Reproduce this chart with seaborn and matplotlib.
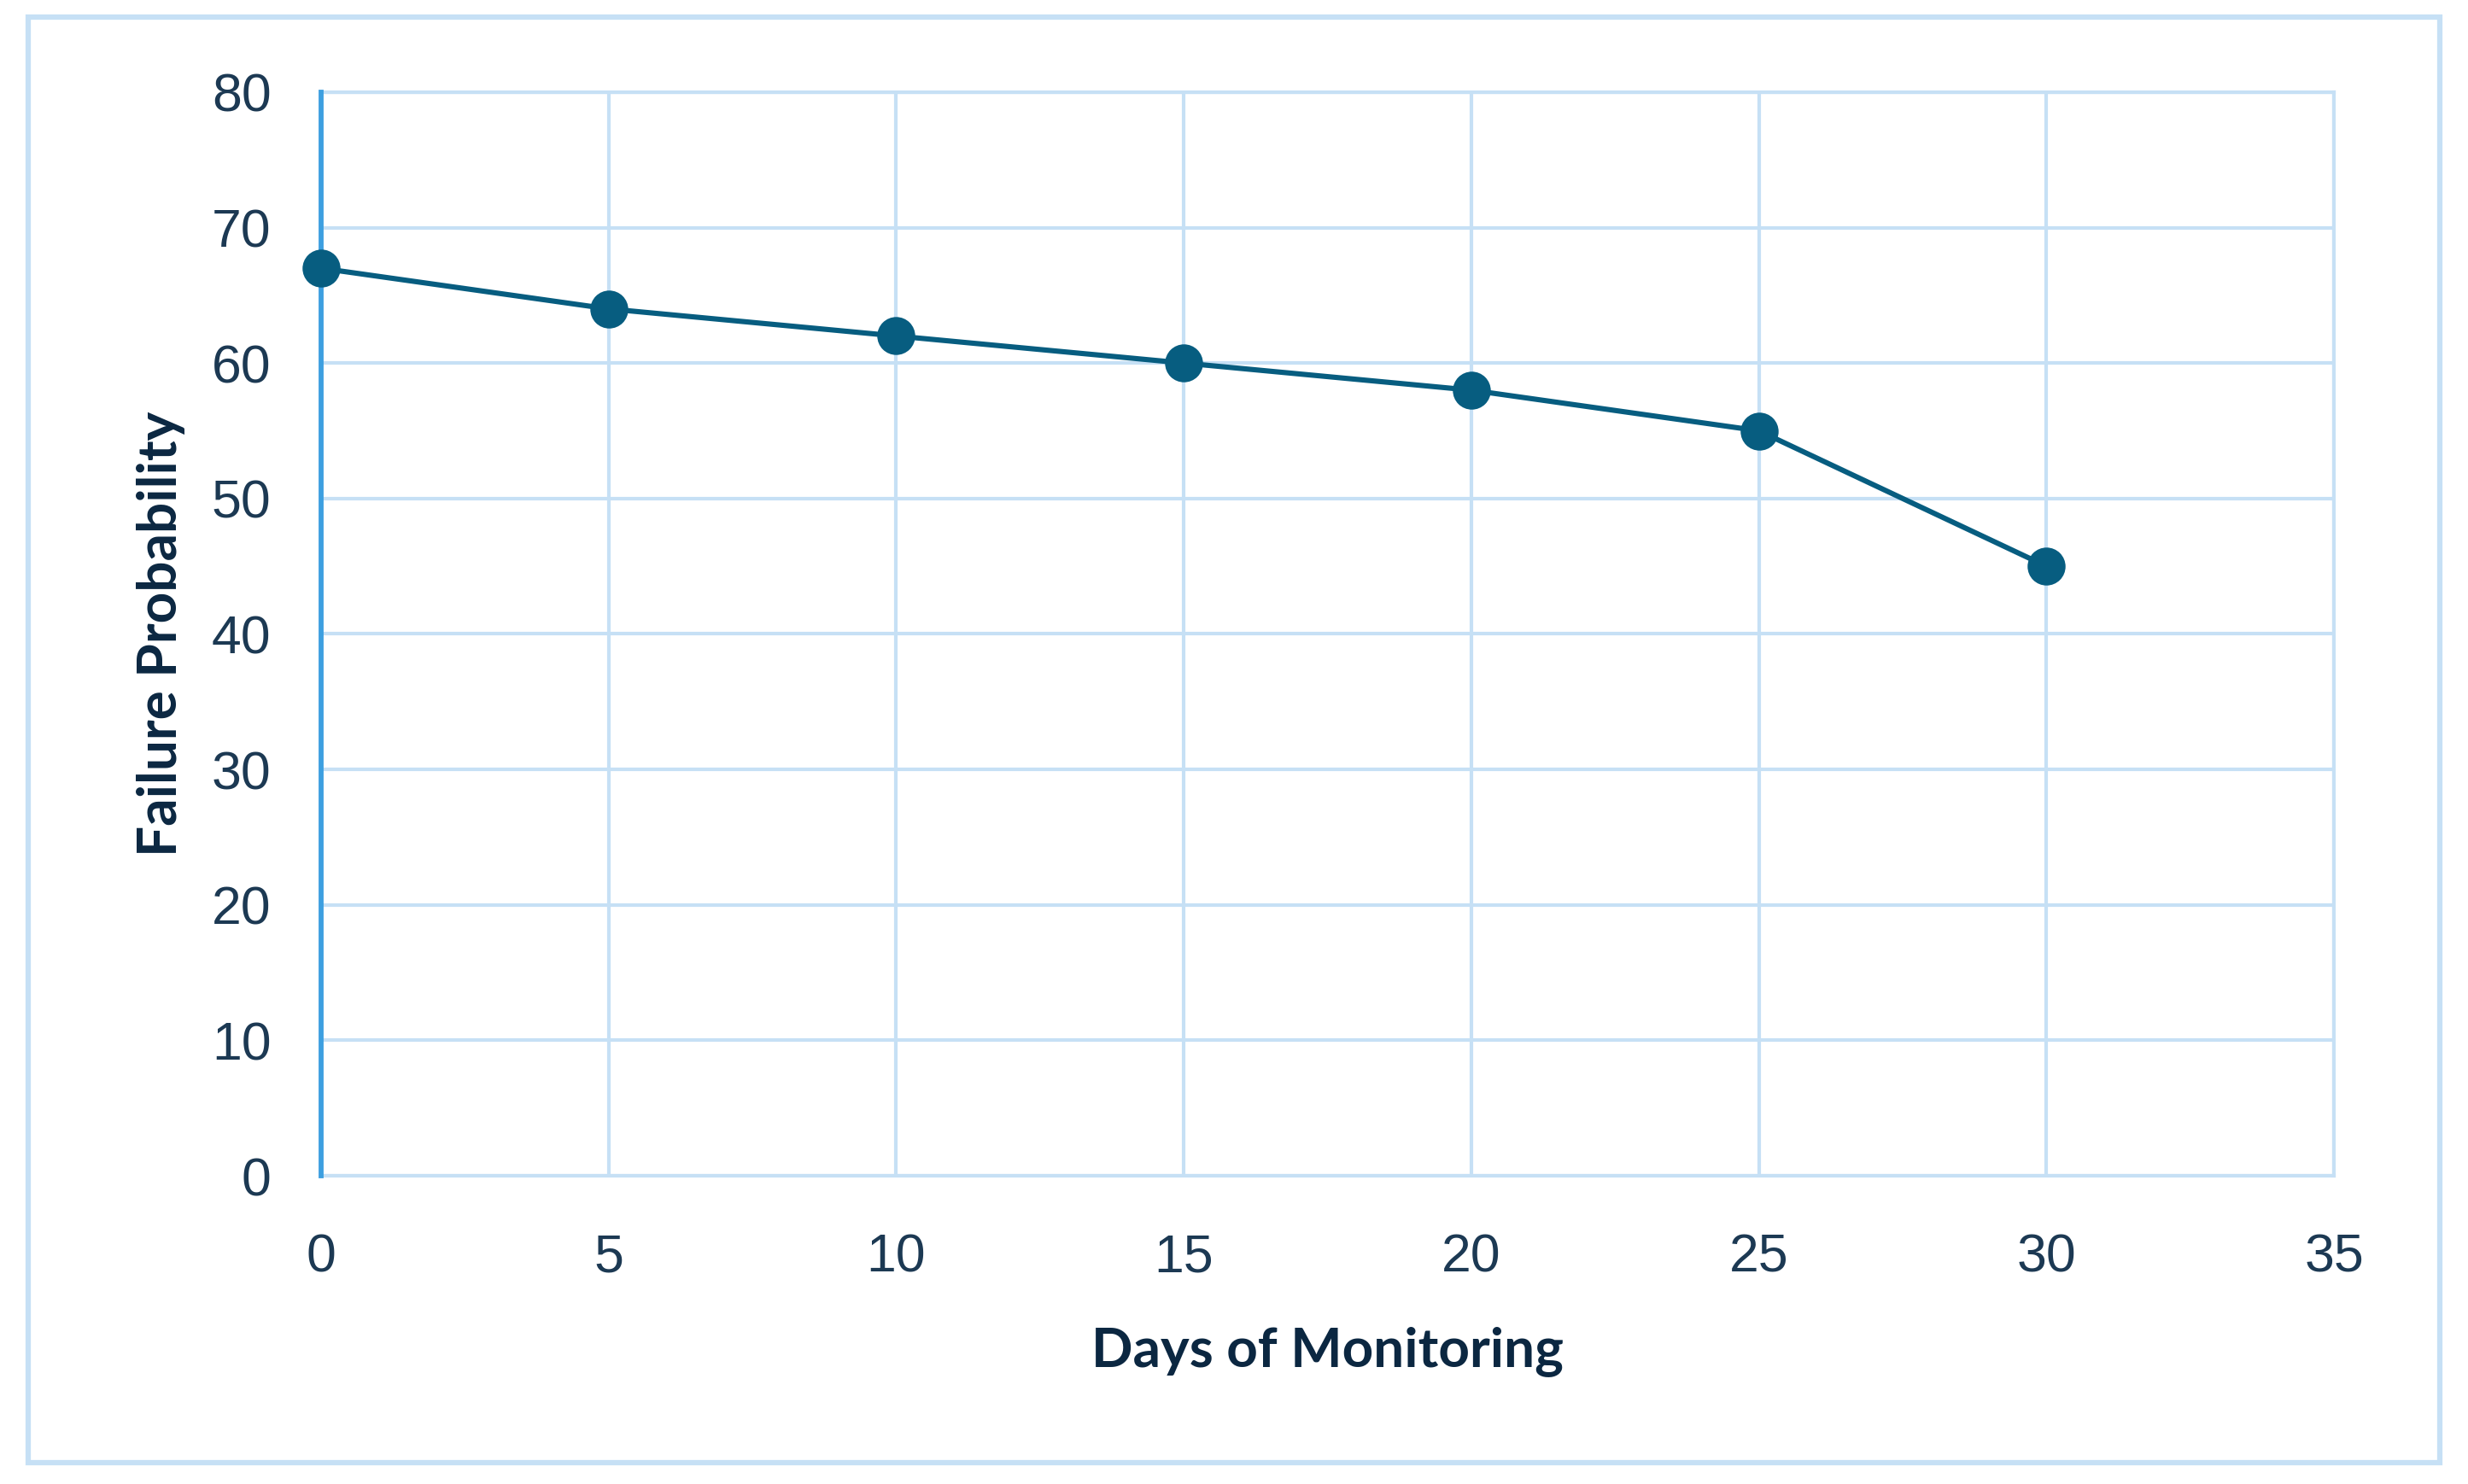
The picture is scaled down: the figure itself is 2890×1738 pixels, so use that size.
import numpy as np
import pandas as pd
import seaborn as sns
from matplotlib import pyplot as plt
from matplotlib.patches import Rectangle

# values
days = [0, 5, 10, 15, 20, 25, 30]
failure_prob = [67, 64, 62, 60, 58, 55, 45]
x_ticks = [0, 5, 10, 15, 20, 25, 30, 35]
y_ticks = [0, 10, 20, 30, 40, 50, 60, 70, 80]

df = pd.DataFrame({"days": days, "prob": failure_prob})

sns.set_style("white")
plt.rcParams["font.family"] = ["Liberation Sans", "DejaVu Sans"]

line_col = "#075d80"
grid_col = "#c6e0f5"
spine_col = "#3d9fe0"
tick_col = "#1c3953"
label_col = "#0b2741"

fig = plt.figure(figsize=(28.9, 17.38), dpi=100)
ax = fig.add_axes([0.1301, 0.2077, 0.9457 - 0.1301, 0.9379 - 0.2077])

sns.lineplot(data=df, x="days", y="prob", ax=ax, color=line_col, lw=4.4,
             marker="o", markersize=32, markeredgewidth=0, clip_on=False, zorder=5)

ax.set_xlim(0, 35)
ax.set_ylim(0, 80)
ax.set_xticks(x_ticks)
ax.set_yticks(y_ticks)
ax.grid(True, color=grid_col, lw=3)
ax.set_axisbelow(True)

for side in ["top", "right", "bottom"]:
    ax.spines[side].set_color(grid_col)
    ax.spines[side].set_linewidth(3)
ax.spines["left"].set_color(spine_col)
ax.spines["left"].set_linewidth(4.2)
ax.spines["left"].set_zorder(3)

ax.tick_params(axis="both", length=0, labelsize=45, colors=tick_col)
ax.tick_params(axis="y", pad=42)
ax.tick_params(axis="x", pad=48)

ax.set_xlabel("Days of Monitoring", fontsize=46, fontweight="bold",
              color=label_col, family=["Lato", "DejaVu Sans"], labelpad=36)
ax.set_ylabel("Failure Probability", fontsize=46, fontweight="bold",
              color=label_col, family=["Lato", "DejaVu Sans"], labelpad=22)

# outer frame around the whole chart
fig.patches.append(Rectangle((33 / 2890, 1 - 1713 / 1738), (2857 - 33) / 2890,
                             (1713 - 20) / 1738, transform=fig.transFigure,
                             fill=False, ec=grid_col, lw=4.5))

fig.savefig("out.png", dpi=100)
